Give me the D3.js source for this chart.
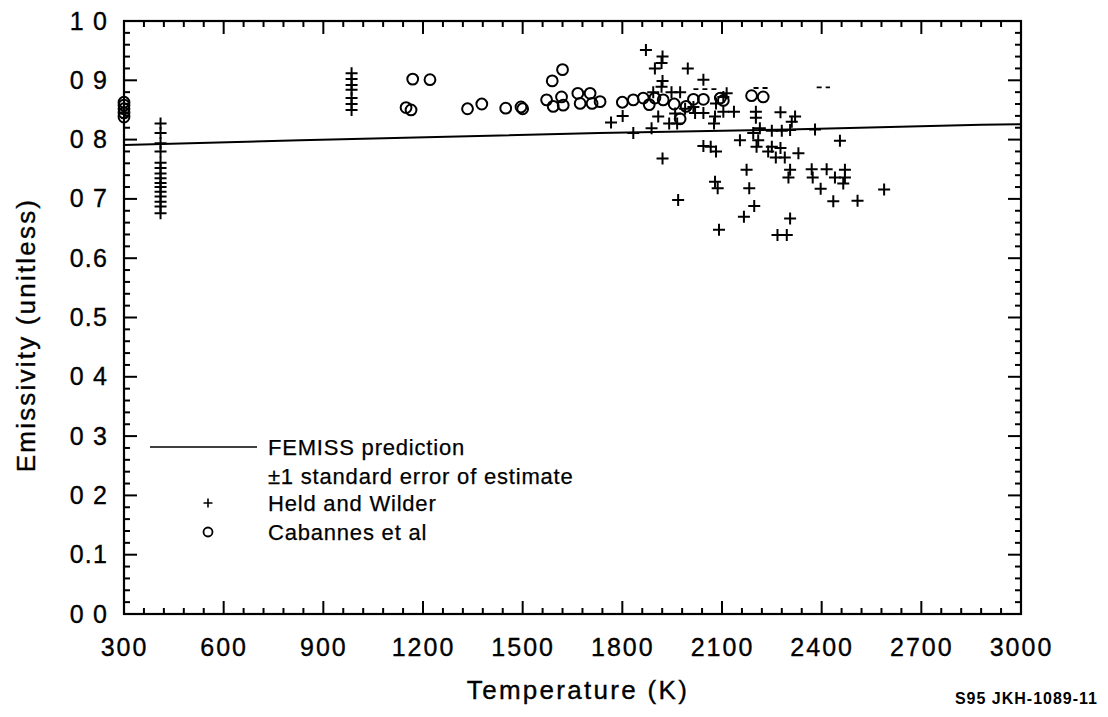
<!DOCTYPE html>
<html>
<head>
<meta charset="utf-8">
<script src="https://cdn.jsdelivr.net/npm/d3@7"></script>
<style>
  body { margin: 0; background: #fff; }
  svg { display: block; font-family: "Liberation Sans", Arial, sans-serif; }
</style>
</head>
<body>
<svg id="chart" width="1108" height="717"></svg>
<script>
/* ===================== data ===================== */

var xTicks = [300, 600, 900, 1200, 1500, 1800, 2100, 2400, 2700, 3000];
var yTicks = [0, 0.1, 0.2, 0.3, 0.4, 0.5, 0.6, 0.7, 0.8, 0.9, 1.0];
// labels as printed (the scan lost most decimal points)
var yTickLabels = ["0 0", "0.1", "0 2", "0 3", "0 4", "0.5", "0.6", "0 7", "0 8", "0 9", "1 0"];

// FEMISS prediction [temperature K, emissivity]
var femiss = [[300, 0.791], [830, 0.799], [1730, 0.811], [2300, 0.817], [2880, 0.825], [3000, 0.826]];

// fragments of the +1 standard error line that survived the scan [t0, t1, emissivity]
var errorDashes = [[2014, 2095, 0.885], [2195, 2240, 0.887], [2385, 2425, 0.888]];

// Held and Wilder (+)
var heldWilder = [
  [410, 0.827], [410, 0.811], [410, 0.794], [410, 0.780], [410, 0.761], [410, 0.752],
  [410, 0.743], [410, 0.735], [410, 0.727], [410, 0.720], [410, 0.712], [410, 0.704],
  [410, 0.695], [410, 0.687], [410, 0.676],
  [985, 0.912], [985, 0.902], [985, 0.892], [985, 0.884], [985, 0.870], [985, 0.860], [985, 0.850],
  [1766, 0.829], [1801, 0.840], [1833, 0.811], [1871, 0.951], [1888, 0.819], [1893, 0.880],
  [1898, 0.920], [1908, 0.839], [1918, 0.929], [1918, 0.889], [1921, 0.940], [1921, 0.899],
  [1921, 0.768], [1941, 0.827], [1948, 0.880], [1959, 0.844], [1965, 0.827], [1968, 0.698],
  [1974, 0.880], [1989, 0.852], [1997, 0.920], [2014, 0.855], [2019, 0.845], [2044, 0.901],
  [2044, 0.845], [2044, 0.789], [2066, 0.788], [2076, 0.827], [2079, 0.839], [2079, 0.729],
  [2082, 0.861], [2082, 0.780], [2087, 0.718], [2091, 0.648], [2104, 0.872], [2104, 0.847],
  [2114, 0.878], [2136, 0.847], [2154, 0.799], [2166, 0.670], [2174, 0.749], [2182, 0.718],
  [2194, 0.811], [2197, 0.688], [2202, 0.847], [2202, 0.837], [2204, 0.788], [2209, 0.799],
  [2214, 0.819], [2239, 0.780], [2250, 0.815], [2250, 0.788], [2262, 0.770], [2267, 0.639],
  [2276, 0.846], [2276, 0.786], [2280, 0.815], [2289, 0.770], [2295, 0.639], [2300, 0.736],
  [2305, 0.816], [2305, 0.749], [2305, 0.667], [2310, 0.830], [2320, 0.839], [2330, 0.777],
  [2370, 0.750], [2373, 0.736], [2380, 0.817], [2397, 0.717], [2415, 0.750], [2435, 0.696],
  [2440, 0.736], [2455, 0.798], [2465, 0.726], [2470, 0.749], [2470, 0.736], [2508, 0.697],
  [2588, 0.716]
];

// Cabannes et al (o)
var cabannes = [
  [300, 0.838], [300, 0.845], [300, 0.852], [300, 0.858], [300, 0.863],
  [1149, 0.854], [1164, 0.850], [1169, 0.902], [1221, 0.901], [1334, 0.852], [1377, 0.860],
  [1449, 0.853], [1495, 0.855], [1500, 0.852], [1572, 0.867], [1589, 0.899], [1592, 0.856],
  [1617, 0.872], [1620, 0.918], [1622, 0.858], [1666, 0.878], [1673, 0.861], [1703, 0.878],
  [1709, 0.861], [1733, 0.864], [1800, 0.863], [1833, 0.867], [1863, 0.870], [1881, 0.859],
  [1898, 0.870], [1923, 0.867], [1956, 0.860], [1974, 0.835], [1992, 0.856], [2014, 0.868],
  [2044, 0.868], [2095, 0.870], [2104, 0.866], [2189, 0.874], [2224, 0.872]
];

var legendItems = ["FEMISS prediction", "\u00b11 standard error of estimate", "Held and Wilder", "Cabannes et al"];

/* ===================== layout ===================== */

var svg = d3.select("#chart");
var plotLeft = 124, plotRight = 1021, plotTop = 21, plotBottom = 614;
var majorLen = 13, minorLen = 6;

var x = d3.scaleLinear().domain([300, 3000]).range([plotLeft, plotRight]);
var y = d3.scaleLinear().domain([0, 1]).range([plotBottom, plotTop]);

var xMinor = d3.range(300, 3001, 60).filter(function (v) { return v % 300 != 0; });
var yMinor = d3.range(0, 51).map(function (i) { return i / 50; }).filter(function (v, i) { return i % 5 != 0; });

// frame
svg.append("rect")
    .attr("x", plotLeft)
    .attr("y", plotTop)
    .attr("width", plotRight - plotLeft)
    .attr("height", plotBottom - plotTop)
    .attr("fill", "none")
    .attr("stroke", "#000")
    .attr("stroke-width", 2.2);

/*
  inward tick marks on all four sides of the frame
*/
function drawTicks (values, len) {
    var ticks = svg.append("g")
        .attr("stroke", "#000")
        .attr("stroke-width", 2);

    var xVals = values === xTicks || values === xMinor;
    var sides = xVals ? [[plotBottom, -1], [plotTop, 1]] : [[plotLeft, 1], [plotRight, -1]];

    sides.forEach(function (side) {
        ticks.selectAll(null)
            .data(values)
            .enter().append("line")
            .attr("x1", function (d) { return xVals ? x(d) : side[0]; })
            .attr("x2", function (d) { return xVals ? x(d) : side[0] + side[1] * len; })
            .attr("y1", function (d) { return xVals ? side[0] : y(d); })
            .attr("y2", function (d) { return xVals ? side[0] + side[1] * len : y(d); });
    });
}

drawTicks(xTicks, majorLen);
drawTicks(xMinor, minorLen);
drawTicks(yTicks, majorLen);
drawTicks(yMinor, minorLen);

// tick labels through d3 axes (no tick lines, no domain)
var gBottom = svg.append("g")
    .attr("transform", "translate(0," + plotBottom + ")")
    .call(d3.axisBottom(x).tickValues(xTicks).tickSize(0).tickFormat(function (d) { return d; }));
gBottom.select(".domain").remove();
gBottom.selectAll(".tick text")
    .attr("y", 24)
    .attr("font-size", 25)
    .attr("letter-spacing", 2)
    .attr("fill", "#000")
    .attr("stroke", "#000")
    .attr("stroke-width", 0.35);

var gLeft = svg.append("g")
    .attr("transform", "translate(" + plotLeft + ",0)")
    .call(d3.axisLeft(y).tickValues(yTicks).tickSize(0).tickFormat(function (d, i) { return yTickLabels[i]; }));
gLeft.select(".domain").remove();
gLeft.selectAll(".tick text")
    .attr("x", -16)
    .attr("font-size", 25)
    .attr("letter-spacing", 1.2)
    .attr("fill", "#000")
    .attr("stroke", "#000")
    .attr("stroke-width", 0.35);

/* ===================== series ===================== */

var line = d3.line()
    .x(function (d) { return x(d[0]); })
    .y(function (d) { return y(d[1]); });

svg.append("path")
    .datum(femiss)
    .attr("d", line)
    .attr("fill", "none")
    .attr("stroke", "#000")
    .attr("stroke-width", 2);

svg.selectAll(".se-dash")
    .data(errorDashes)
    .enter().append("line")
    .attr("class", "se-dash")
    .attr("x1", function (d) { return x(d[0]); })
    .attr("x2", function (d) { return x(d[1]); })
    .attr("y1", function (d) { return y(d[2]); })
    .attr("y2", function (d) { return y(d[2]); })
    .attr("stroke", "#000")
    .attr("stroke-width", 1.8)
    .attr("stroke-dasharray", "5,4");

svg.selectAll(".held")
    .data(heldWilder)
    .enter().append("path")
    .attr("class", "held")
    .attr("transform", function (d) { return "translate(" + x(d[0]) + "," + y(d[1]) + ")"; })
    .attr("d", "M-6,0H6M0,-6V6")
    .attr("stroke", "#000")
    .attr("stroke-width", 2)
    .attr("fill", "none");

svg.selectAll(".cab")
    .data(cabannes)
    .enter().append("circle")
    .attr("class", "cab")
    .attr("cx", function (d) { return x(d[0]); })
    .attr("cy", function (d) { return y(d[1]); })
    .attr("r", 5.4)
    .attr("stroke", "#000")
    .attr("stroke-width", 2)
    .attr("fill", "none");

/* ===================== legend ===================== */

var legend = svg.append("g").attr("transform", "translate(150,447)");
var rowY = [0, 29, 56, 85];

legend.append("line")
    .attr("x1", 0).attr("x2", 107)
    .attr("y1", rowY[0]).attr("y2", rowY[0])
    .attr("stroke", "#000")
    .attr("stroke-width", 1.6);

legend.append("path")
    .attr("transform", "translate(58," + rowY[2] + ")")
    .attr("d", "M-4.5,0H4.5M0,-4.5V4.5")
    .attr("stroke", "#000")
    .attr("stroke-width", 1.6);

legend.append("circle")
    .attr("cx", 58).attr("cy", rowY[3])
    .attr("r", 4.5)
    .attr("stroke", "#000")
    .attr("stroke-width", 1.8)
    .attr("fill", "none");

legend.selectAll("text")
    .data(legendItems)
    .enter().append("text")
    .attr("x", 118)
    .attr("y", function (d, i) { return rowY[i] + 8; })
    .attr("font-size", 22)
    .attr("letter-spacing", 0.8)
    .attr("stroke", "#000")
    .attr("stroke-width", 0.25)
    .text(function (d) { return d; });

/* ===================== titles ===================== */

svg.append("text")
    .attr("x", 578)
    .attr("y", 699)
    .attr("text-anchor", "middle")
    .attr("font-size", 26)
    .attr("letter-spacing", 2.3)
    .attr("stroke", "#000")
    .attr("stroke-width", 0.35)
    .text("Temperature (K)");

svg.append("text")
    .attr("transform", "translate(35,335) rotate(-90)")
    .attr("text-anchor", "middle")
    .attr("font-size", 26)
    .attr("letter-spacing", 2.2)
    .attr("stroke", "#000")
    .attr("stroke-width", 0.35)
    .text("Emissivity (unitless)");

svg.append("text")
    .attr("x", 1098)
    .attr("y", 704)
    .attr("text-anchor", "end")
    .attr("font-size", 16)
    .attr("font-weight", "bold")
    .attr("letter-spacing", 1)
    .text("S95 JKH-1089-11");
</script>
</body>
</html>
